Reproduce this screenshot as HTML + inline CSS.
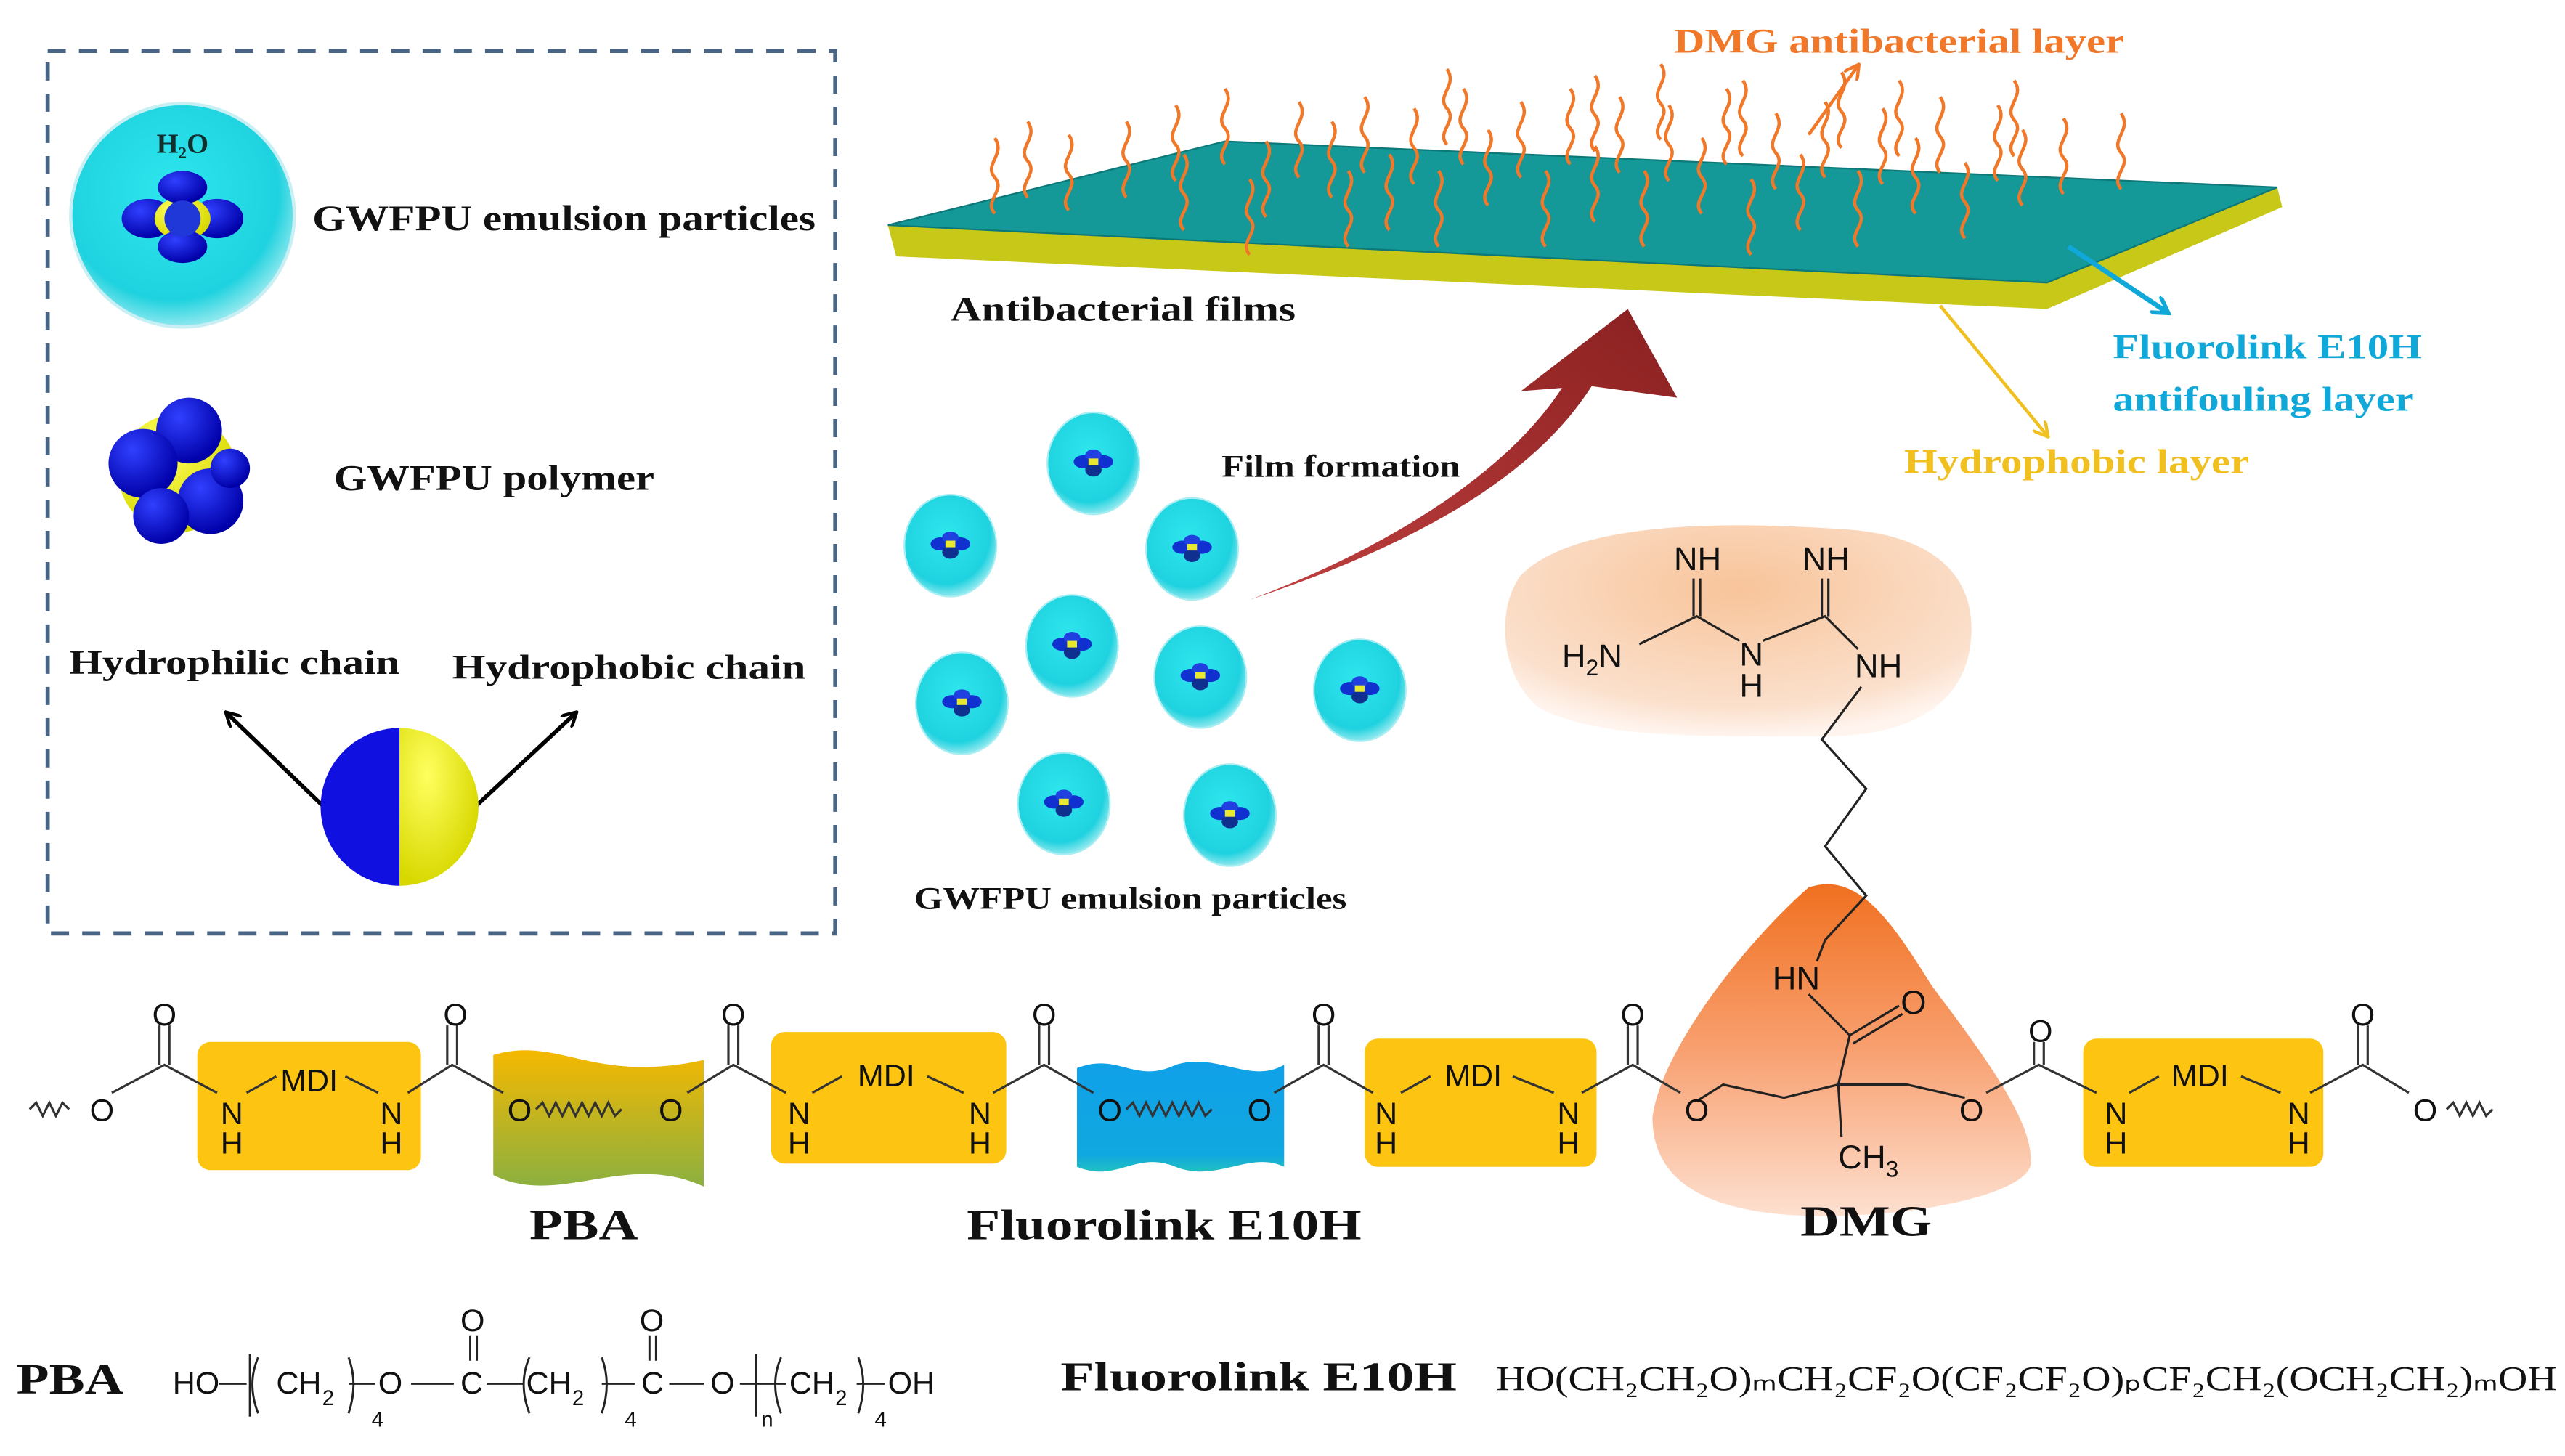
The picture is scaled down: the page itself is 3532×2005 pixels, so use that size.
<!DOCTYPE html>
<html><head><meta charset="utf-8"><style>
html,body{margin:0;padding:0;background:#fff;}
svg{display:block;}
.b{font-family:"Liberation Serif",serif;font-weight:bold;}
.r{font-family:"Liberation Serif",serif;font-weight:normal;}
.s{font-family:"Liberation Sans",sans-serif;}
</style></head><body>
<svg width="3532" height="2005" viewBox="0 0 1560 886" preserveAspectRatio="none" xmlns="http://www.w3.org/2000/svg">
<defs>
<radialGradient id="cy" cx="0.45" cy="0.4" r="0.6"><stop offset="0" stop-color="#2ee6ee"/><stop offset="0.8" stop-color="#1fd2df"/><stop offset="1" stop-color="#8fe8ee"/></radialGradient>
<radialGradient id="bl" cx="0.35" cy="0.3" r="0.7"><stop offset="0" stop-color="#3040ff"/><stop offset="1" stop-color="#0000a8"/></radialGradient>
<radialGradient id="ye" cx="0.35" cy="0.3" r="0.7"><stop offset="0" stop-color="#ffff60"/><stop offset="1" stop-color="#d8d800"/></radialGradient>
<linearGradient id="pba" x1="0" y1="0" x2="0" y2="1"><stop offset="0" stop-color="#f5b800"/><stop offset="1" stop-color="#8cb040"/></linearGradient>
<linearGradient id="flu" x1="0" y1="0" x2="0" y2="1"><stop offset="0" stop-color="#10a0e8"/><stop offset="0.85" stop-color="#10a8e0"/><stop offset="1" stop-color="#20c0c0"/></linearGradient>
<linearGradient id="dmgt" x1="0" y1="0" x2="0" y2="1"><stop offset="0" stop-color="#f07020"/><stop offset="0.5" stop-color="#f8a070"/><stop offset="1" stop-color="#fde0d0"/></linearGradient>
<radialGradient id="dmgb" cx="0.5" cy="0.3" r="0.7"><stop offset="0" stop-color="#f8c49a"/><stop offset="0.8" stop-color="#fbe0cc"/><stop offset="1" stop-color="#fff4ee"/></radialGradient>
<linearGradient id="red" x1="0" y1="1" x2="1" y2="0"><stop offset="0" stop-color="#c04040"/><stop offset="1" stop-color="#8a2020"/></linearGradient>
<path id="sq" d="M0,0 c-7,-8 7,-14 0,-22 c-7,-8 7,-14 0,-24" fill="none" stroke="#f07828" stroke-width="2"/>
<g id="pt"><ellipse cx="0" cy="0" rx="28" ry="31" fill="url(#cy)" stroke="#a8eef2" stroke-width="1"/><ellipse cx="-6" cy="-1" rx="6" ry="4" fill="#1030d0"/><ellipse cx="6" cy="-1" rx="6" ry="4" fill="#1030d0"/><ellipse cx="0" cy="-5" rx="5" ry="3.5" fill="#2040e0"/><ellipse cx="0" cy="4" rx="5" ry="4" fill="#103090"/><rect x="-3" y="-3" width="6" height="4" fill="#e8e830"/></g>
<marker id="ab" markerWidth="10" markerHeight="10" refX="8" refY="5" orient="auto" markerUnits="userSpaceOnUse"><path d="M0,0 L9,5 L0,10" fill="none" stroke="#000" stroke-width="2"/></marker>
<marker id="ao" markerWidth="10" markerHeight="10" refX="8" refY="5" orient="auto" markerUnits="userSpaceOnUse"><path d="M0,0 L9,5 L0,10" fill="none" stroke="#f07828" stroke-width="2"/></marker>
<marker id="ac" markerWidth="12" markerHeight="12" refX="9" refY="6" orient="auto" markerUnits="userSpaceOnUse"><path d="M0,0 L10,6 L0,12" fill="none" stroke="#10a8d8" stroke-width="2.5"/></marker>
<marker id="ay" markerWidth="10" markerHeight="10" refX="8" refY="5" orient="auto" markerUnits="userSpaceOnUse"><path d="M0,0 L9,5 L0,10" fill="none" stroke="#f0c020" stroke-width="2"/></marker>
</defs>

<rect x="29" y="31" width="479" height="537" fill="none" stroke="#4a6484" stroke-width="2.5" stroke-dasharray="11,8"/>
<circle cx="111" cy="131" r="68" fill="url(#cy)" stroke="#c8f0f4" stroke-width="2"/>
<text x="111" y="93" class="b" font-size="17" text-anchor="middle" fill="#103030">H₂O</text>
<ellipse cx="90" cy="133" rx="16" ry="12" fill="url(#bl)"/><ellipse cx="132" cy="133" rx="16" ry="12" fill="url(#bl)"/>
<ellipse cx="111" cy="133" rx="17" ry="13" fill="url(#ye)"/>
<ellipse cx="111" cy="114" rx="15" ry="10" fill="url(#bl)"/><ellipse cx="111" cy="150" rx="15" ry="10" fill="url(#bl)"/><ellipse cx="111" cy="133" rx="11" ry="11" fill="#2038d8"/>
<text x="190" y="140" class="b" font-size="22" textLength="306" lengthAdjust="spacingAndGlyphs" fill="#111">GWFPU emulsion particles</text>

<circle cx="108" cy="288" r="36" fill="url(#ye)"/>
<circle cx="115" cy="262" r="20" fill="url(#bl)"/><circle cx="87" cy="282" r="21" fill="url(#bl)"/><circle cx="128" cy="305" r="20" fill="url(#bl)"/><circle cx="98" cy="314" r="17" fill="url(#bl)"/><circle cx="140" cy="285" r="12" fill="url(#bl)"/>
<text x="203" y="298" class="b" font-size="22" textLength="195" lengthAdjust="spacingAndGlyphs" fill="#111">GWFPU polymer</text>

<text x="42" y="410" class="b" font-size="21" textLength="201" lengthAdjust="spacingAndGlyphs" fill="#111">Hydrophilic chain</text>
<text x="275" y="413" class="b" font-size="21" textLength="215" lengthAdjust="spacingAndGlyphs" fill="#111">Hydrophobic chain</text>
<line x1="196" y1="490" x2="138" y2="434" stroke="#000" stroke-width="2.5" marker-end="url(#ab)"/>
<line x1="290" y1="490" x2="350" y2="434" stroke="#000" stroke-width="2.5" marker-end="url(#ab)"/>
<path d="M243,443 A48,48 0 0,0 243,539 Z" fill="#1010e0"/>
<path d="M243,443 A48,48 0 0,1 243,539 Z" fill="url(#ye)"/>

<path d="M540,137 L745,86 L1385,114 L1388,126 L1245,188 L545,156 Z" fill="#c8c818"/>
<path d="M540,137 L745,86 L1385,114 L1245,172 Z" fill="#159898" stroke="#0c7878" stroke-width="1"/>
<g>
<use href="#sq" x="605" y="130"/><use href="#sq" x="625" y="120"/><use href="#sq" x="650" y="128"/><use href="#sq" x="685" y="120"/><use href="#sq" x="715" y="110"/><use href="#sq" x="745" y="100"/><use href="#sq" x="770" y="132"/><use href="#sq" x="790" y="108"/><use href="#sq" x="810" y="120"/><use href="#sq" x="830" y="105"/><use href="#sq" x="845" y="140"/><use href="#sq" x="860" y="112"/><use href="#sq" x="875" y="150"/><use href="#sq" x="890" y="100"/><use href="#sq" x="905" y="125"/><use href="#sq" x="925" y="108"/><use href="#sq" x="940" y="150"/><use href="#sq" x="955" y="100"/><use href="#sq" x="970" y="135"/><use href="#sq" x="985" y="105"/><use href="#sq" x="1000" y="150"/><use href="#sq" x="1015" y="110"/><use href="#sq" x="1035" y="130"/><use href="#sq" x="1050" y="100"/><use href="#sq" x="1065" y="155"/><use href="#sq" x="1080" y="115"/><use href="#sq" x="1095" y="140"/><use href="#sq" x="1110" y="108"/><use href="#sq" x="1130" y="150"/><use href="#sq" x="1145" y="112"/><use href="#sq" x="1165" y="130"/><use href="#sq" x="1180" y="105"/><use href="#sq" x="1195" y="145"/><use href="#sq" x="1215" y="110"/><use href="#sq" x="1230" y="125"/><use href="#sq" x="1255" y="118"/><use href="#sq" x="1290" y="115"/><use href="#sq" x="1060" y="95"/><use href="#sq" x="970" y="92"/><use href="#sq" x="880" y="88"/><use href="#sq" x="1155" y="95"/><use href="#sq" x="1225" y="95"/><use href="#sq" x="820" y="150"/><use href="#sq" x="760" y="155"/><use href="#sq" x="720" y="140"/><use href="#sq" x="1120" y="90"/><use href="#sq" x="1010" y="85"/>
</g>
<text x="1018" y="32" class="b" font-size="21" textLength="274" lengthAdjust="spacingAndGlyphs" fill="#f07828">DMG antibacterial layer</text>
<line x1="1100" y1="82" x2="1130" y2="40" stroke="#f07828" stroke-width="2" marker-end="url(#ao)"/>
<text x="578" y="195" class="b" font-size="21" textLength="210" lengthAdjust="spacingAndGlyphs" fill="#111">Antibacterial films</text>
<line x1="1258" y1="150" x2="1318" y2="190" stroke="#10a8d8" stroke-width="3" marker-end="url(#ac)"/>
<text x="1285" y="218" class="b" font-size="21" textLength="188" lengthAdjust="spacingAndGlyphs" fill="#10a8d8">Fluorolink E10H</text>
<text x="1285" y="250" class="b" font-size="21" textLength="183" lengthAdjust="spacingAndGlyphs" fill="#10a8d8">antifouling layer</text>
<line x1="1180" y1="186" x2="1245" y2="265" stroke="#f0c020" stroke-width="2" marker-end="url(#ay)"/>
<text x="1158" y="288" class="b" font-size="21" textLength="210" lengthAdjust="spacingAndGlyphs" fill="#f0c020">Hydrophobic layer</text>

<path d="M760,365 C850,335 930,295 968,235 L1020,242 L990,188 L925,238 L950,236 C915,290 840,335 760,365 Z" fill="url(#red)"/>
<text x="743" y="290" class="b" font-size="19" textLength="145" lengthAdjust="spacingAndGlyphs" fill="#111">Film formation</text>

<use href="#pt" x="665" y="282"/><use href="#pt" x="578" y="332"/><use href="#pt" x="725" y="334"/><use href="#pt" x="652" y="393"/><use href="#pt" x="730" y="412"/><use href="#pt" x="585" y="428"/><use href="#pt" x="827" y="420"/><use href="#pt" x="647" y="489"/><use href="#pt" x="748" y="496"/>
<text x="556" y="553" class="b" font-size="19" textLength="263" lengthAdjust="spacingAndGlyphs" fill="#111">GWFPU emulsion particles</text>

<path d="M925,350 C960,315 1060,318 1120,322 C1175,325 1205,350 1198,395 C1192,430 1160,450 1100,448 C1040,448 970,450 935,430 C912,410 910,370 925,350 Z" fill="url(#dmgb)"/>
<path d="M1100,540 C1130,530 1150,560 1175,600 C1205,640 1235,680 1235,705 C1240,725 1170,740 1110,740 C1040,740 1005,720 1005,680 C1010,640 1060,575 1100,540 Z" fill="url(#dmgt)"/>
<g class="s" font-size="20" fill="#111">
<text x="1018" y="347">NH</text><text x="1096" y="347">NH</text>
<text x="950" y="406">H<tspan font-size="14" dy="5">2</tspan><tspan dy="-5">N</tspan></text>
<text x="1058" y="405">N</text><text x="1058" y="424">H</text><text x="1128" y="412">NH</text>
<text x="1078" y="602">HN</text><text x="1156" y="617">O</text>
<text x="1118" y="711">CH<tspan font-size="14" dy="5">3</tspan></text>
</g>
<g fill="none" stroke="#222" stroke-width="1.4">
<path d="M1030,352 V375 M1034,352 V375 M1108,352 V375 M1112,352 V375"/>
<path d="M997,392 L1032,375 L1058,390 M1072,390 L1110,375 L1130,395"/>
<path d="M1132,418 L1108,450 L1135,480 L1110,515 L1135,545 L1110,572 L1105,585"/>
<path d="M1100,605 L1125,630 L1155,612 M1127,635 L1157,617 M1125,630 L1118,660 L1085,668 L1048,660 L1032,670 M1118,660 L1160,660 L1195,668 M1118,660 L1120,692"/>
</g>

<g>
<rect x="120" y="634" width="136" height="78" rx="8" fill="#fdc512"/>
<rect x="469" y="628" width="143" height="80" rx="8" fill="#fdc512"/>
<rect x="830" y="632" width="141" height="78" rx="8" fill="#fdc512"/>
<rect x="1267" y="632" width="146" height="78" rx="8" fill="#fdc512"/>
<path d="M300,642 C340,630 360,660 428,645 L428,722 C380,700 340,735 300,715 Z" fill="url(#pba)"/>
<path d="M655,650 C680,640 690,660 715,648 C740,640 760,660 781,648 L781,710 C760,700 740,720 715,710 C690,700 680,720 655,710 Z" fill="url(#flu)"/>
</g>
<g fill="none" stroke="#333" stroke-width="1.4">
<path d="M18,675 l4,-4 l4,8 l4,-8 l4,8 l4,-8 l4,4"/>
<path d="M68,665 L100,648 L132,665 M97,648 V624 M103,648 V624"/>
<path d="M150,665 L168,655 M210,655 L230,665 M248,665 L275,648 L306,665 M272,648 V624 M278,648 V624"/>
<path d="M326,675 l4,-4 l4,8 l4,-8 l4,8 l4,-8 l4,8 l4,-8 l4,8 l4,-8 l4,8 l4,-8 l4,8 l4,-4 M418,665 L446,648 L478,665 M443,648 V624 M449,648 V624"/>
<path d="M494,665 L512,655 M564,655 L586,665 M604,665 L635,648 L665,665 M632,648 V624 M638,648 V624"/>
<path d="M685,675 l4,-4 l4,8 l4,-8 l4,8 l4,-8 l4,8 l4,-8 l4,8 l4,-8 l4,8 l4,-8 l4,8 l4,-4 M775,665 L805,648 L835,665 M802,648 V624 M808,648 V624"/>
<path d="M852,665 L870,655 M920,655 L945,665 M962,665 L993,648 L1022,665 M990,648 V624 M996,648 V624"/>
<path d="M1208,665 L1240,648 L1275,665 M1237,648 V634 M1243,648 V634"/>
<path d="M1295,665 L1313,655 M1363,655 L1387,665 M1405,665 L1437,648 L1465,665 M1434,648 V624 M1440,648 V624"/>
<path d="M1488,675 l4,-4 l4,8 l4,-8 l4,8 l4,-8 l4,8 l4,-4"/>
</g>
<g class="s" font-size="19" fill="#111" text-anchor="middle">
<text x="62" y="682">O</text><text x="100" y="624">O</text><text x="141" y="684">N</text><text x="141" y="702">H</text><text x="188" y="664">MDI</text><text x="238" y="684">N</text><text x="238" y="702">H</text><text x="277" y="624">O</text>
<text x="316" y="682">O</text><text x="408" y="682">O</text><text x="446" y="624">O</text><text x="486" y="684">N</text><text x="486" y="702">H</text><text x="539" y="661">MDI</text><text x="596" y="684">N</text><text x="596" y="702">H</text><text x="635" y="624">O</text>
<text x="675" y="682">O</text><text x="766" y="682">O</text><text x="805" y="624">O</text><text x="843" y="684">N</text><text x="843" y="702">H</text><text x="896" y="661">MDI</text><text x="954" y="684">N</text><text x="954" y="702">H</text><text x="993" y="624">O</text>
<text x="1032" y="682">O</text><text x="1199" y="682">O</text><text x="1241" y="634">O</text><text x="1287" y="684">N</text><text x="1287" y="702">H</text><text x="1338" y="661">MDI</text><text x="1398" y="684">N</text><text x="1398" y="702">H</text><text x="1437" y="624">O</text><text x="1475" y="682">O</text>
</g>
<g class="b" font-size="26" fill="#111">
<text x="322" y="754" textLength="66" lengthAdjust="spacingAndGlyphs">PBA</text>
<text x="588" y="754" textLength="240" lengthAdjust="spacingAndGlyphs">Fluorolink E10H</text>
<text x="1095" y="752" textLength="80" lengthAdjust="spacingAndGlyphs">DMG</text>
</g>

<text x="10" y="848" class="b" font-size="26" textLength="65" lengthAdjust="spacingAndGlyphs" fill="#111">PBA</text>
<g class="s" font-size="19" fill="#111">
<text x="105" y="848">HO</text>
<text x="168" y="848">CH</text><text x="196" y="855" font-size="13">2</text><text x="230" y="848">O</text>
<text x="280" y="848">C</text><text x="320" y="848">CH</text><text x="348" y="855" font-size="13">2</text><text x="390" y="848">C</text><text x="432" y="848">O</text>
<text x="480" y="848">CH</text><text x="508" y="855" font-size="13">2</text><text x="540" y="848">OH</text>
<text x="226" y="868" font-size="13">4</text><text x="380" y="868" font-size="13">4</text><text x="463" y="868" font-size="13">n</text><text x="532" y="868" font-size="13">4</text>
<text x="280" y="810">O</text><text x="389" y="810">O</text>
</g>
<g fill="none" stroke="#222" stroke-width="1.3">
<path d="M133,842 H150 M212,842 H228 M250,842 H276 M296,842 H318 M366,842 H386 M407,842 H428 M450,842 H478 M521,842 H538"/>
<path d="M152,824 V862 M157,826 Q150,842 157,860 M212,826 Q218,842 212,860 M322,826 Q315,842 322,860 M366,826 Q372,842 366,860 M460,824 V862 M475,826 Q468,842 475,860 M522,826 Q528,842 522,860"/>
<path d="M286,813 V828 M290,813 V828 M395,813 V828 M399,813 V828"/>
</g>
<text x="645" y="846" class="b" font-size="25" textLength="241" lengthAdjust="spacingAndGlyphs" fill="#111">Fluorolink E10H</text>
<text x="910" y="846" class="r" font-size="21" fill="#111" textLength="645" lengthAdjust="spacingAndGlyphs">HO(CH₂CH₂O)ₘCH₂CF₂O(CF₂CF₂O)ₚCF₂CH₂(OCH₂CH₂)ₘOH</text>
</svg>
</body></html>
